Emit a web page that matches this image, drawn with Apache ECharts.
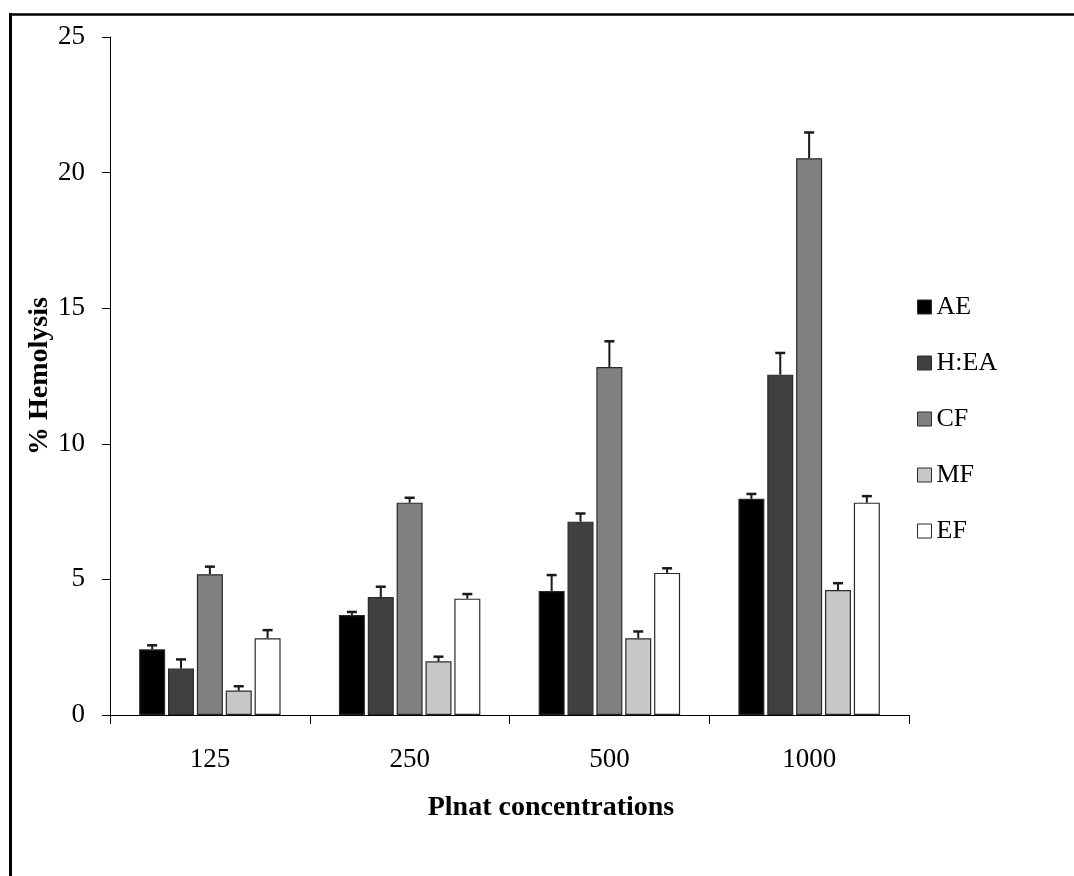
<!DOCTYPE html>
<html>
<head>
<meta charset="utf-8">
<script src="https://cdn.jsdelivr.net/npm/echarts@6/dist/echarts.min.js"></script>
<style>
html,body{margin:0;padding:0;background:#fff;}
#chart{width:1074px;height:876px;}
</style>
</head>
<body>
<div id="chart"></div>
<script>
const categories = ['125', '250', '500', '1000'];
const seriesNames = ['AE', 'H:EA', 'CF', 'MF', 'EF'];
const AE = [2.42, 3.69, 4.57, 7.97];
const HEA = [1.71, 4.35, 7.13, 12.55];
const CF = [5.19, 7.83, 12.83, 20.53];
const MF = [0.90, 1.98, 2.83, 4.61];
const EF = [2.83, 4.29, 5.24, 7.83];
const AE_err = [0.15, 0.11, 0.59, 0.18];
const HEA_err = [0.34, 0.38, 0.30, 0.80];
const CF_err = [0.28, 0.18, 0.95, 0.95];
const MF_err = [0.16, 0.17, 0.25, 0.25];
const EF_err = [0.30, 0.17, 0.17, 0.24];
const yTicks = [0, 5, 10, 15, 20, 25];

const values = [AE, HEA, CF, MF, EF];
const errors = [AE_err, HEA_err, CF_err, MF_err, EF_err];
const colors = ['#000000', '#404040', '#808080', '#c8c8c8', '#ffffff'];
const BAR_W = 26;
const GAP_RATIO = 0.11;
const STEP = BAR_W * (1 + GAP_RATIO);
const FONT = '"Liberation Serif", "Times New Roman", serif';

const chart = echarts.init(document.getElementById('chart'));

const series = [];
values.forEach((vals, i) => {
  series.push({
    name: seriesNames[i],
    type: 'bar',
    data: vals,
    barWidth: BAR_W,
    barGap: (GAP_RATIO * 100) + '%',
    itemStyle: { color: colors[i], borderColor: '#2a2a2a', borderWidth: 1.2 },
    z: 2
  });
});
values.forEach((vals, i) => {
  series.push({
    type: 'custom',
    name: seriesNames[i] + ' err',
    data: vals.map((v, k) => [k, v, errors[i][k]]),
    z: 5,
    renderItem: function (params, api) {
      const base = api.coord([api.value(0), api.value(1)]);
      const top = api.coord([api.value(0), api.value(1) + api.value(2)]);
      const cx = base[0] + (i - 2) * STEP;
      const half = 5;
      return {
        type: 'group',
        children: [
          { type: 'line', shape: { x1: cx, y1: base[1], x2: cx, y2: top[1] },
            style: { stroke: '#1a1a1a', lineWidth: 2 } },
          { type: 'line', shape: { x1: cx - half, y1: top[1], x2: cx + half, y2: top[1] },
            style: { stroke: '#1a1a1a', lineWidth: 2.5 } }
        ]
      };
    }
  });
});

chart.setOption({
  animation: false,
  backgroundColor: '#ffffff',
  grid: { left: 110, right: 165, top: 37, bottom: 161, containLabel: false },
  legend: {
    data: seriesNames,
    orient: 'vertical',
    left: 917,
    top: 294,
    padding: 0,
    itemWidth: 14,
    itemHeight: 14,
    itemGap: 30,
    icon: 'rect',
    selectedMode: false,
    textStyle: { fontFamily: FONT, fontSize: 26, color: '#000', lineHeight: 26 },
    itemStyle: { borderColor: '#2a2a2a', borderWidth: 1 }
  },
  xAxis: {
    type: 'category',
    data: categories,
    axisLine: { lineStyle: { color: '#000', width: 1 } },
    axisTick: { show: true, length: 9, inside: false, lineStyle: { color: '#000' } },
    axisLabel: { fontFamily: FONT, fontSize: 27, color: '#000', margin: 31 },
    splitLine: { show: false }
  },
  yAxis: {
    type: 'value',
    min: 0,
    max: 25,
    interval: 5,
    axisLine: { show: true, lineStyle: { color: '#000', width: 1 } },
    axisTick: { show: true, length: 8, lineStyle: { color: '#000' } },
    axisLabel: { fontFamily: FONT, fontSize: 27, color: '#000', margin: 25,
      formatter: v => (yTicks.indexOf(v) >= 0 ? String(v) : '') },
    splitLine: { show: false }
  },
  graphic: [
    { type: 'line', shape: { x1: 9, y1: 14.5, x2: 1074, y2: 14.5 },
      style: { stroke: '#000', lineWidth: 2.5 } },
    { type: 'line', shape: { x1: 10.5, y1: 13, x2: 10.5, y2: 876 },
      style: { stroke: '#000', lineWidth: 3 } },
    { type: 'text', x: 40, y: 376, rotation: Math.PI / 2,
      style: { text: '% Hemolysis', font: 'bold 28px ' + FONT, fill: '#000',
        textAlign: 'center', textVerticalAlign: 'middle' } },
    { type: 'text', x: 551, y: 808,
      style: { text: 'Plnat concentrations', font: 'bold 28px ' + FONT, fill: '#000',
        textAlign: 'center', textVerticalAlign: 'middle' } }
  ],
  series: series
});
</script>
</body>
</html>
